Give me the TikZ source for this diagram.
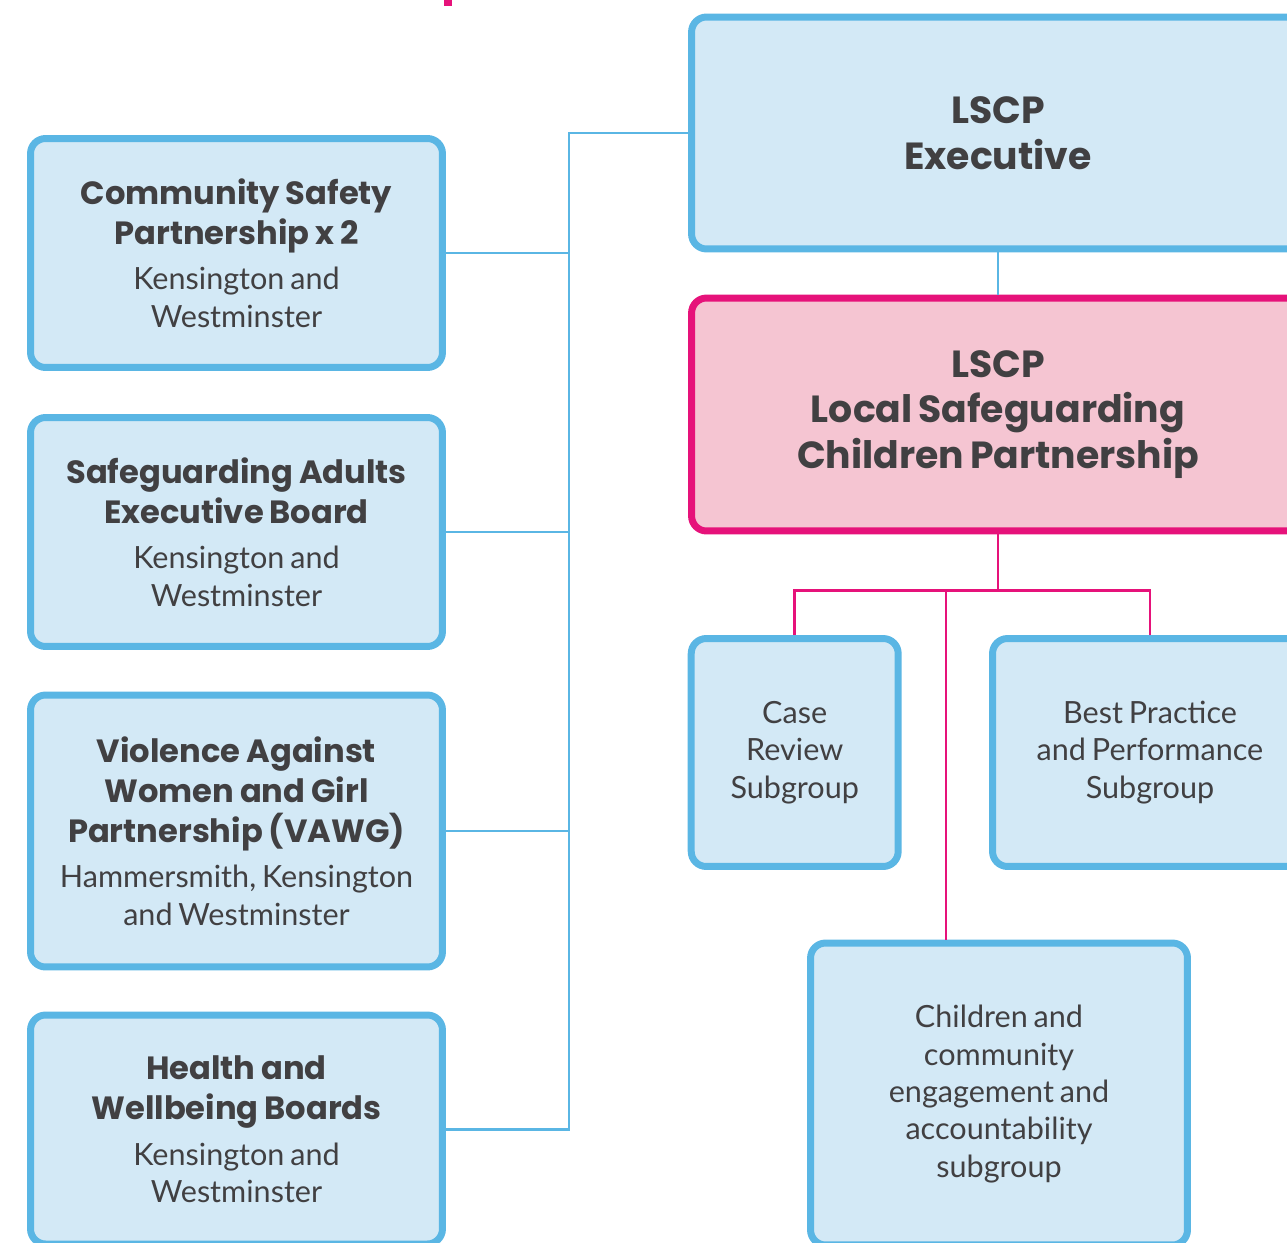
\documentclass[tikz,border=0pt]{standalone}
\usepackage{fontspec}
\usepackage{tikz}
\newfontfamily\headfont{Poppins}[WordSpace=1.35]
\newfontfamily\bodyfont{Lato}

\definecolor{boxblue}{HTML}{5AB6E4}
\definecolor{boxfill}{HTML}{D3E9F6}
\definecolor{lscpmagenta}{HTML}{E6127A}
\definecolor{lscpfill}{HTML}{F5C5D2}
\definecolor{textgrey}{HTML}{414042}

\newcommand{\boxhead}[1]{{\headfont\bfseries\fontsize{18.3}{22.7}\selectfont #1\par}}
\newcommand{\boxbody}[1]{{\vspace{4.8pt}\bodyfont\fontsize{17.4}{21.3}\selectfont #1\par}}
\newcommand{\bighead}[1]{{\headfont\bfseries\fontsize{21.5}{26}\selectfont #1\par}}
\newcommand{\plainbody}[1]{{\bodyfont\fontsize{17.4}{21.3}\selectfont #1\par}}

\begin{document}
\begin{tikzpicture}[x=0.02cm,y=-0.02cm,
    board/.style={draw=boxblue, fill=boxfill, line width=3.97pt, rounded corners=0.3cm,
      text=textgrey, align=center, inner sep=0pt},
    lscpbox/.style={board, draw=lscpmagenta, fill=lscpfill},
    blueline/.style={draw=boxblue, line width=1.6pt},
    pinkline/.style={draw=lscpmagenta, line width=1.6pt}]
    \clip (0,0) rectangle (1287,1243);
    \fill[lscpmagenta] (444,0) rectangle (452,6);

    % partner boards down the left
    \node[board, minimum width=8.24cm, minimum height=4.58cm, text width=7.9cm] (csp) at (236.5,253)
      {\boxhead{Community Safety\\Partnership x 2}\boxbody{Kensington and\\Westminster}};
    \node[board, minimum width=8.24cm, minimum height=4.58cm, text width=7.9cm] (sab) at (236.5,532)
      {\boxhead{Safeguarding Adults\\Executive Board}\boxbody{Kensington and\\Westminster}};
    \node[board, minimum width=8.24cm, minimum height=5.44cm, text width=7.9cm] (vawg) at (236.5,831)
      {\boxhead{Violence Against\\Women and Girl\\Partnership (VAWG)}\boxbody{Hammersmith, Kensington\\and Westminster}};
    \node[board, minimum width=8.24cm, minimum height=4.58cm, text width=7.9cm] (hwb) at (236.5,1129.5)
      {\boxhead{Health and\\Wellbeing Boards}\boxbody{Kensington and\\Westminster}};

    % LSCP and its subgroups
    \node[board, minimum width=12.26cm, minimum height=4.64cm, text width=11cm] (exec) at (998,133)
      {\bighead{LSCP\\Executive}};
    \node[lscpbox, minimum width=12.26cm, minimum height=4.66cm, text width=11cm] (lscp) at (998,414.5)
      {\bighead{LSCP\\Local Safeguarding\\Children Partnership}};
    \node[board, minimum width=4.14cm, minimum height=4.56cm, text width=3.9cm] (case) at (794.7,752.5)
      {\plainbody{Case\\Review\\Subgroup}};
    \node[board, minimum width=6.3cm, minimum height=4.56cm, text width=6cm] (best) at (1150,752.5)
      {\plainbody{Best Practice\\and Performance\\Subgroup}};
    \node[board, minimum width=7.54cm, minimum height=6.04cm, text width=7.2cm] (child) at (999,1094)
      {\plainbody{Children and\\community\\engagement and\\accountability\\subgroup}};

    % connectors
    \coordinate (spinetop) at (569,133);
    \draw[blueline] (exec.west) -- (spinetop) -- (spinetop |- hwb.east) -- (hwb.east);
    \foreach \b in {csp,sab,vawg}
      \draw[blueline] (\b.east) -- (\b.east -| spinetop);
    \draw[blueline] (exec.south) -- (lscp.north);
    \draw[pinkline] (lscp.south) -- ++(0,56) coordinate (split);
    \draw[pinkline] (case.north) |- (split) -| (best.north);
    \draw[pinkline] ([xshift=-1.06cm]child.north) coordinate (drop) -- (drop |- split);
\end{tikzpicture}
\end{document}
